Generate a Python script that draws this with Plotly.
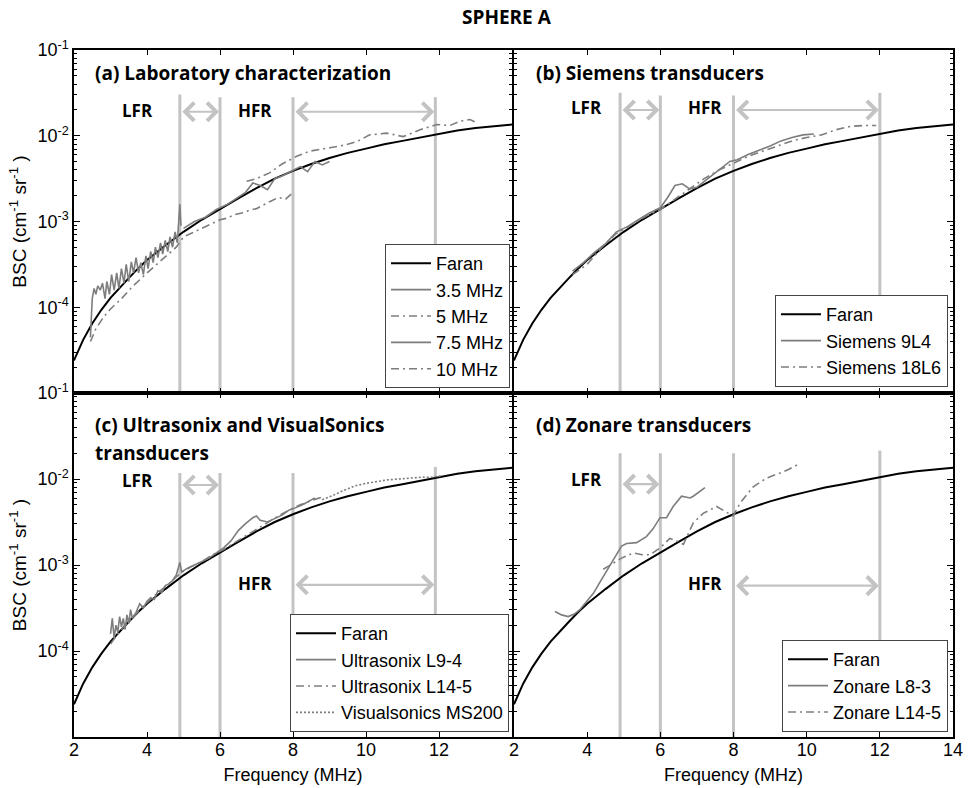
import plotly.graph_objects as go
from plotly.subplots import make_subplots

# ---------------- data (BSC stored as log10 values) ----------------
faran_f = [2.0, 2.25, 2.5, 2.75, 3.0, 3.25, 3.5, 3.75, 4.0, 4.5, 5.0, 5.5, 6.0, 6.5, 7.0,
           7.5, 8.0, 8.5, 9.0, 9.5, 10.0, 10.5, 11.0, 11.5, 12.0, 12.5, 13.0, 13.5, 14.0]
faran_log = [-4.62, -4.38, -4.19, -4.03, -3.89, -3.77, -3.66, -3.55, -3.45, -3.28, -3.12, -2.98,
             -2.85, -2.73, -2.61, -2.50, -2.41, -2.33, -2.26, -2.20, -2.15, -2.10, -2.06, -2.02,
             -1.98, -1.94, -1.91, -1.89, -1.87]

# (a) laboratory characterization
lab35_f = [2.45, 2.50, 2.55, 2.60, 2.65, 2.72, 2.78, 2.85, 2.90, 2.97, 3.03, 3.10, 3.17, 3.23,
           3.30, 3.37, 3.43, 3.50, 3.57, 3.63, 3.70, 3.77, 3.83, 3.90, 3.97, 4.03, 4.10, 4.17,
           4.23, 4.30, 4.37, 4.43, 4.50, 4.57, 4.63, 4.70, 4.77, 4.83, 4.90, 4.93]
lab35_log = [-4.35, -3.90, -3.78, -3.85, -3.75, -3.80, -3.72, -3.90, -3.70, -3.85, -3.62, -3.80,
             -3.60, -3.78, -3.55, -3.72, -3.50, -3.70, -3.47, -3.60, -3.42, -3.60, -3.48, -3.62,
             -3.40, -3.55, -3.35, -3.48, -3.30, -3.42, -3.25, -3.38, -3.22, -3.35, -3.18, -3.30,
             -3.12, -3.25, -2.80, -3.05]
lab5_f = [2.45, 2.6, 2.8, 3.0, 3.3, 3.6, 4.0, 4.4, 4.8, 5.0, 5.2, 5.4, 5.6, 5.8, 6.0, 6.2, 6.4,
          6.6, 6.8, 7.0, 7.2, 7.4, 7.6, 7.8, 7.95]
lab5_log = [-4.40, -4.25, -4.12, -4.02, -3.90, -3.76, -3.60, -3.45, -3.30, -3.18, -3.14, -3.10,
            -3.06, -3.02, -2.98, -2.96, -2.92, -2.90, -2.87, -2.85, -2.80, -2.76, -2.72, -2.74, -2.68]
lab75_f = [5.0, 5.3, 5.6, 5.9, 6.2, 6.5, 6.7, 6.9, 7.1, 7.3, 7.5, 7.7, 8.0, 8.2, 8.4, 8.6, 8.8, 9.0]
lab75_log = [-3.08, -3.00, -2.95, -2.86, -2.80, -2.72, -2.66, -2.55, -2.58, -2.63, -2.50, -2.47,
             -2.40, -2.36, -2.42, -2.30, -2.34, -2.30]
lab10_f = [6.73, 7.0, 7.37, 7.7, 8.1, 8.46, 9.01, 9.4, 9.74, 10.1, 10.57, 11.02, 11.48, 11.94,
           12.3, 12.58, 12.85, 13.03]
lab10_log = [-2.53, -2.50, -2.43, -2.33, -2.24, -2.18, -2.14, -2.11, -2.07, -1.99, -1.97, -2.01,
             -1.93, -1.87, -1.88, -1.83, -1.81, -1.85]

# (b) Siemens
s9l4_f = [3.6, 3.9, 4.2, 4.5, 4.8, 5.1, 5.4, 5.7, 6.0, 6.2, 6.4, 6.6, 6.8, 7.0, 7.3, 7.6, 7.9,
          8.1, 8.4, 8.7, 9.0, 9.3, 9.6, 9.9, 10.2]
s9l4_log = [-3.58, -3.48, -3.36, -3.26, -3.12, -3.06, -2.98, -2.90, -2.84, -2.72, -2.58, -2.56,
            -2.62, -2.60, -2.50, -2.40, -2.30, -2.28, -2.22, -2.17, -2.12, -2.06, -2.02, -1.99, -1.98]
s18l6_f = [3.6, 4.0, 4.4, 4.8, 5.2, 5.6, 6.0, 6.4, 6.8, 7.2, 7.6, 8.0, 8.4, 8.8, 9.2, 9.6, 10.0,
           10.4, 10.8, 11.2, 11.6, 11.9]
s18l6_log = [-3.62, -3.50, -3.30, -3.14, -3.04, -2.94, -2.86, -2.74, -2.62, -2.50, -2.40, -2.32,
             -2.24, -2.18, -2.12, -2.06, -2.02, -1.99, -1.93, -1.89, -1.88, -1.88]

# (c) Ultrasonix and VisualSonics
u94_f = [3.0, 3.05, 3.1, 3.15, 3.2, 3.25, 3.3, 3.35, 3.4, 3.45, 3.5, 3.55, 3.6, 3.7, 3.8, 3.9,
         4.0, 4.1, 4.2, 4.3, 4.4, 4.5, 4.6, 4.7, 4.8, 4.9, 4.95, 5.1, 5.3, 5.5, 5.7, 5.9, 6.1,
         6.3, 6.5, 6.7, 6.9, 7.0, 7.1, 7.3, 7.5, 7.7, 7.9, 8.1, 8.3, 8.5, 8.6]
u94_log = [-3.80, -3.62, -3.85, -3.70, -3.78, -3.60, -3.72, -3.62, -3.75, -3.58, -3.68, -3.52,
           -3.62, -3.55, -3.45, -3.50, -3.42, -3.38, -3.40, -3.30, -3.32, -3.24, -3.22, -3.18,
           -3.12, -2.97, -3.08, -3.04, -3.00, -2.96, -2.92, -2.86, -2.80, -2.72, -2.60, -2.52,
           -2.45, -2.43, -2.48, -2.50, -2.46, -2.42, -2.36, -2.33, -2.29, -2.24, -2.22]
u145_f = [3.0, 3.2, 3.4, 3.6, 3.8, 4.0, 4.3, 4.6, 4.9, 5.2, 5.5, 5.8, 6.1, 6.4, 6.7, 7.0, 7.3,
          7.6, 7.9, 8.2, 8.5, 8.8]
u145_log = [-3.92, -3.80, -3.70, -3.62, -3.52, -3.44, -3.32, -3.22, -3.10, -3.02, -2.96, -2.88,
            -2.82, -2.74, -2.66, -2.58, -2.50, -2.43, -2.36, -2.30, -2.25, -2.21]
ms200_f = [8.8, 9.1, 9.4, 9.7, 10.0, 10.3, 10.6, 10.9, 11.2, 11.5, 11.8, 12.1]
ms200_log = [-2.24, -2.19, -2.13, -2.08, -2.05, -2.03, -2.01, -2.00, -1.99, -1.98, -1.98, -1.96]

# (d) Zonare
z83_f = [3.12, 3.3, 3.48, 3.65, 3.8, 4.0, 4.17, 4.35, 4.53, 4.75, 4.94, 5.08, 5.35, 5.62, 5.8,
         5.99, 6.17, 6.35, 6.58, 6.81, 6.9, 7.22]
z83_log = [-3.54, -3.58, -3.60, -3.57, -3.52, -3.42, -3.33, -3.20, -3.07, -2.92, -2.78, -2.75,
           -2.74, -2.67, -2.58, -2.45, -2.45, -2.32, -2.20, -2.22, -2.20, -2.10]
z145_f = [4.44, 4.7, 4.94, 5.26, 5.5, 5.72, 6.0, 6.26, 6.45, 6.63, 6.9, 7.17, 7.54, 7.99, 8.18,
          8.54, 8.9, 9.27, 9.5, 9.81]
z145_log = [-3.05, -2.98, -2.92, -2.86, -2.88, -2.88, -2.80, -2.69, -2.72, -2.76, -2.51, -2.40,
            -2.32, -2.43, -2.28, -2.09, -1.99, -1.93, -1.89, -1.82]

# frequency-range guides (MHz) and their vertical extents (log10 BSC)
guide_x_ac = [4.9, 6.0, 8.0, 11.9]
guide_x_bd = [4.9, 6.0, 8.0, 12.0]
guide_top = {"a": [-1.52, -1.55, -1.55, -1.55], "b": [-1.50, -1.53, -1.53, -1.50],
             "c": [-1.93, -1.93, -1.93, -1.86], "d": [-1.70, -1.70, -1.70, -1.67]}
guide_bot = {"a": [-5, -5, -5, -3.47], "b": [-5, -5, -5, -3.97],
             "c": [-5, -5, -3.73, -3.73], "d": [-5, -5, -5, -3.99]}
# arrow / label heights (log10 BSC): (LFR, HFR)
arrow_y = {"a": (-1.72, -1.72), "b": (-1.70, -1.70), "c": (-2.07, -3.23), "d": (-2.06, -3.24)}
label_y = {"a": (-1.70, -1.70), "b": (-1.67, -1.67), "c": (-2.02, -3.21), "d": (-2.01, -3.21)}
label_x = {"a": (3.75, 6.96), "b": (3.99, 7.22), "c": (3.75, 6.96), "d": (3.99, 7.22)}

freq_ticks = [2, 4, 6, 8, 10, 12, 14]
freq_ticks_c = [2, 4, 6, 8, 10, 12]
decade_vals = [1e-5, 1e-4, 1e-3, 1e-2, 1e-1]
decade_text_a = ["10<sup>-1</sup>", "10<sup>-4</sup>", "10<sup>-3</sup>", "10<sup>-2</sup>", "10<sup>-1</sup>"]
decade_vals_c = [1e-4, 1e-3, 1e-2]
decade_text_c = ["10<sup>-4</sup>", "10<sup>-3</sup>", "10<sup>-2</sup>"]


def p10(arr):
    return [10 ** v for v in arr]


GRAY = "#7d7d7d"
GUIDE = "#c3c3c3"
DASHDOT = "8px,4px,2px,4px"

fig = make_subplots(rows=2, cols=2)
panel_pos = {"a": (1, 1, "legend"), "b": (1, 2, "legend2"), "c": (2, 1, "legend3"), "d": (2, 2, "legend4")}

# guides first (underneath)
for key, (r, c, lg) in panel_pos.items():
    gx = guide_x_ac if key in "ac" else guide_x_bd
    for i, x in enumerate(gx):
        fig.add_trace(go.Scatter(x=[x, x], y=p10([guide_top[key][i], guide_bot[key][i]]),
                                 mode="lines", line=dict(color=GUIDE, width=3),
                                 showlegend=False, hoverinfo="skip"), row=r, col=c)

series = {
    "a": [("3.5 MHz", lab35_f, lab35_log, "solid"), ("5 MHz", lab5_f, lab5_log, DASHDOT),
          ("7.5 MHz", lab75_f, lab75_log, "solid"), ("10 MHz", lab10_f, lab10_log, DASHDOT)],
    "b": [("Siemens 9L4", s9l4_f, s9l4_log, "solid"), ("Siemens 18L6", s18l6_f, s18l6_log, DASHDOT)],
    "c": [("Ultrasonix L9-4", u94_f, u94_log, "solid"), ("Ultrasonix L14-5", u145_f, u145_log, DASHDOT),
          ("Visualsonics MS200", ms200_f, ms200_log, "2px,2px")],
    "d": [("Zonare L8-3", z83_f, z83_log, "solid"), ("Zonare L14-5", z145_f, z145_log, DASHDOT)],
}

for key, (r, c, lg) in panel_pos.items():
    fig.add_trace(go.Scatter(x=faran_f, y=p10(faran_log), mode="lines", name="Faran",
                             line=dict(color="black", width=2), legend=lg), row=r, col=c)
    for name, fx, fy, dash in series[key]:
        fig.add_trace(go.Scatter(x=fx, y=p10(fy), mode="lines", name=name,
                                 line=dict(color=GRAY, width=1.6, dash=dash), legend=lg), row=r, col=c)

W, H = 968, 788
xdom = {"a": [74 / W, 512 / W], "b": [514 / W, 953 / W]}
ydom_top = [1 - 393 / H, 1 - 50 / H]
ydom_bot = [1 - 737 / H, 1 - 393 / H]

tick_font = dict(family="Liberation Sans", size=18, color="black")
common_x = dict(range=[2, 14], tickmode="array", tickvals=freq_ticks, ticks="inside", ticklen=5,
                tickcolor="black", tickwidth=1, mirror="allticks", showline=True, linecolor="black",
                linewidth=1.5, showgrid=False, zeroline=False, tickfont=tick_font, automargin=False,
                ticklabeloverflow="allow", ticklabelstandoff=-4)
common_y = dict(type="log", range=[-5, -1], tickmode="array", tickvals=decade_vals, ticks="inside",
                ticklen=6, tickcolor="black", tickwidth=1, mirror="allticks", showline=True,
                linecolor="black", linewidth=1.5, showgrid=False, zeroline=False, tickfont=tick_font,
                automargin=False, ticklabeloverflow="allow",
                minor=dict(ticks="inside", ticklen=3, tickcolor="black", dtick="D1", showgrid=False))
xtitle = dict(text="Frequency (MHz)", font=dict(family="Liberation Sans", size=18, color="black"), standoff=9)
ytitle = dict(text="BSC (cm<sup>-1</sup> sr<sup>-1</sup> )",
              font=dict(family="Liberation Sans", size=19, color="black"), standoff=6)

fig.update_layout(
    xaxis=dict(common_x, domain=xdom["a"], showticklabels=False),
    xaxis2=dict(common_x, domain=xdom["b"], showticklabels=False),
    xaxis3=dict(common_x, domain=xdom["a"], tickvals=freq_ticks_c, title=xtitle),
    xaxis4=dict(common_x, domain=xdom["b"], title=xtitle),
    yaxis=dict(common_y, domain=ydom_top, ticktext=decade_text_a, title=ytitle),
    yaxis2=dict(common_y, domain=ydom_top, showticklabels=False),
    yaxis3=dict(common_y, domain=ydom_bot, tickvals=decade_vals_c, ticktext=decade_text_c, title=ytitle),
    yaxis4=dict(common_y, domain=ydom_bot, showticklabels=False),
)

leg_common = dict(xanchor="right", yanchor="bottom", bgcolor="white", bordercolor="#444444",
                  borderwidth=1, font=dict(family="Liberation Sans", size=18, color="black"),
                  tracegroupgap=0, itemclick=False, itemwidth=40)
fig.update_layout(
    legend=dict(leg_common, x=510 / W, y=1 - 388 / H),
    legend2=dict(leg_common, x=948 / W, y=1 - 387 / H),
    legend3=dict(leg_common, x=509 / W, y=1 - 732 / H),
    legend4=dict(leg_common, x=948 / W, y=1 - 732 / H),
)

ann = []
bold_font = dict(family="Open Sans", size=19, color="black")
titles = [("x domain", "y domain", 0.043, 0.933, "(a) Laboratory characterization"),
          ("x2 domain", "y2 domain", 0.046, 0.933, "(b) Siemens transducers"),
          ("x3 domain", "y3 domain", 0.043, 0.907, "(c) Ultrasonix and VisualSonics"),
          ("x3 domain", "y3 domain", 0.043, 0.826, "transducers"),
          ("x4 domain", "y4 domain", 0.046, 0.907, "(d) Zonare transducers")]
for xr, yr, x, y, t in titles:
    ann.append(dict(xref=xr, yref=yr, x=x, y=y, xanchor="left", yanchor="middle", showarrow=False,
                    text="<b>" + t + "</b>", font=bold_font))

axmap = {"a": ("x", "y"), "b": ("x2", "y2"), "c": ("x3", "y3"), "d": ("x4", "y4")}
for key, (xr, yr) in axmap.items():
    gx = guide_x_ac if key in "ac" else guide_x_bd
    for j, txt in enumerate(["LFR", "HFR"]):
        ann.append(dict(xref=xr, yref=yr, x=label_x[key][j], y=label_y[key][j], showarrow=False,
                        text="<b>" + txt + "</b>", font=dict(family="Open Sans", size=17, color="black"),
                        xanchor="center", yanchor="middle"))
    pairs = [(gx[0], gx[1]), (gx[2], gx[3])]
    for j, (x0, x1) in enumerate(pairs):
        ann.append(dict(xref=xr, yref=yr, axref=xr, ayref=yr, x=x1, y=arrow_y[key][j], ax=x0,
                        ay=arrow_y[key][j], text="", showarrow=True, arrowhead=4, startarrowhead=4,
                        arrowside="end+start", arrowsize=1.6, startarrowsize=1.6, arrowwidth=2.2,
                        arrowcolor=GUIDE, standoff=1, startstandoff=1))

ann.append(dict(xref="paper", yref="paper", x=507 / W, y=1 - 17 / H, showarrow=False,
                text="<b>SPHERE A</b>", font=dict(family="Open Sans", size=19, color="black"),
                xanchor="center", yanchor="middle"))

fig.update_layout(annotations=ann, width=W, height=H, margin=dict(l=0, r=0, t=0, b=0),
                  paper_bgcolor="white", plot_bgcolor="white", showlegend=True)

fig.write_html("out.html", config={"displayModeBar": False},
               post_script="document.body.style.margin='0';document.body.style.padding='0';"
                           "document.body.style.overflow='hidden';")
